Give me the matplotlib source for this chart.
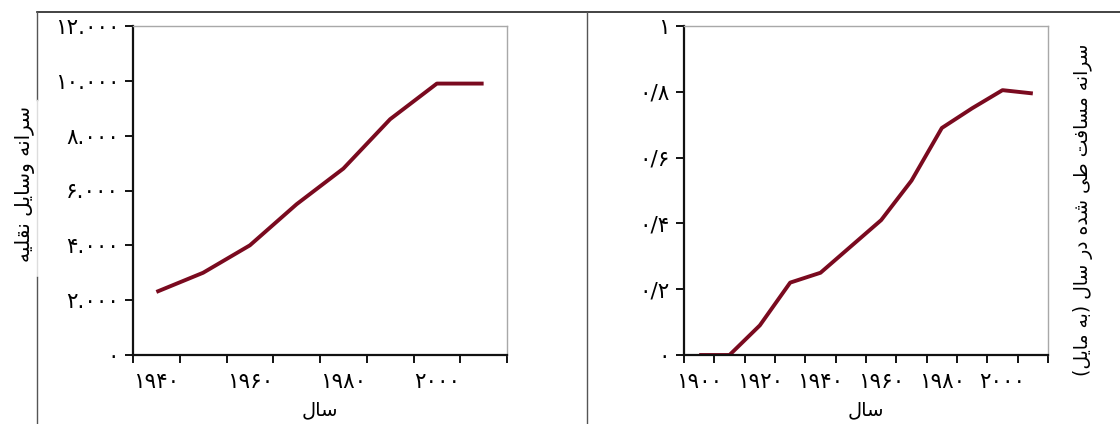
import matplotlib
matplotlib.use('Agg')
import matplotlib.pyplot as plt
from matplotlib.lines import Line2D

# ── Data ─────────────────────────────
years_cars = [1940, 1950, 1960, 1970, 1980, 1990, 2000, 2010]
cars_per_capita = [2300, 3000, 4000, 5500, 6800, 8600, 9900, 9900]

years_miles = [1900, 1910, 1920, 1930, 1940, 1950, 1960, 1970, 1980, 1990, 2000, 2010]
miles_per_capita = [0.0, 0.0, 0.09, 0.22, 0.25, 0.33, 0.41, 0.53, 0.69, 0.75, 0.805, 0.795]

cars_yticks = [0, 2000, 4000, 6000, 8000, 10000, 12000]
miles_yticks = [0, 0.2, 0.4, 0.6, 0.8, 1.0]
cars_xlabels = [1940, 1960, 1980, 2000]
miles_xlabels = [1900, 1920, 1940, 1960, 1980, 2000]

label_cars = 'سرانه وسایل نقلیه'
label_miles = 'سرانه مسافت طی شده در سال (به مایل)'
label_year = 'سال'

LINE = '#7a0a1f'

# ── Minimal Persian shaping (no bidi libs available) ──
FORMS = {
    'ا': ('\uFE8D', '\uFE8E', None, None),
    'ب': ('\uFE8F', '\uFE90', '\uFE91', '\uFE92'),
    'ت': ('\uFE95', '\uFE96', '\uFE97', '\uFE98'),
    'د': ('\uFEA9', '\uFEAA', None, None),
    'ر': ('\uFEAD', '\uFEAE', None, None),
    'س': ('\uFEB1', '\uFEB2', '\uFEB3', '\uFEB4'),
    'ش': ('\uFEB5', '\uFEB6', '\uFEB7', '\uFEB8'),
    'ط': ('\uFEC1', '\uFEC2', '\uFEC3', '\uFEC4'),
    'ف': ('\uFED1', '\uFED2', '\uFED3', '\uFED4'),
    'ق': ('\uFED5', '\uFED6', '\uFED7', '\uFED8'),
    'ل': ('\uFEDD', '\uFEDE', '\uFEDF', '\uFEE0'),
    'م': ('\uFEE1', '\uFEE2', '\uFEE3', '\uFEE4'),
    'ن': ('\uFEE5', '\uFEE6', '\uFEE7', '\uFEE8'),
    'ه': ('\uFEE9', '\uFEEA', '\uFEEB', '\uFEEC'),
    'و': ('\uFEED', '\uFEEE', None, None),
    'ی': ('\uFEEF', '\uFEF0', '\uFEF3', '\uFEF4'),
}
MIRROR = {'(': ')', ')': '('}


def dual(c):
    return c in FORMS and FORMS[c][2] is not None


def shape(text):
    out = []
    for i, c in enumerate(text):
        if c not in FORMS:
            out.append(MIRROR.get(c, c))
            continue
        prev_j = i > 0 and dual(text[i - 1])
        next_j = dual(c) and i + 1 < len(text) and text[i + 1] in FORMS
        iso, fin, ini, med = FORMS[c]
        if prev_j and next_j:
            out.append(med)
        elif prev_j:
            out.append(fin)
        elif next_j:
            out.append(ini)
        else:
            out.append(iso)
    return ''.join(reversed(out))


FA_DIGITS = str.maketrans('0123456789', '۰۱۲۳۴۵۶۷۸۹')


def fa_int(v):
    return f'{v:,}'.replace(',', '.').translate(FA_DIGITS)


def fa_dec(v):
    return f'{v:g}'.replace('.', '/').translate(FA_DIGITS)


plt.rcParams['font.family'] = ['DejaVu Sans']

fig = plt.figure(figsize=(11.2, 4.24), dpi=100)
fig.patch.set_facecolor('white')

ax1 = fig.add_axes([133 / 1120, 69 / 424, 374 / 1120, 329 / 424])
ax2 = fig.add_axes([684 / 1120, 69 / 424, 364 / 1120, 329 / 424])


def style(ax, years, xlabels, yticks, ylabels):
    step = years[1] - years[0]
    ax.set_xlim(years[0] - step / 2, years[-1] + step / 2)
    ax.set_xticks([y - step / 2 for y in years] + [years[-1] + step / 2])
    ax.set_xticklabels([])
    ax.set_xticks(xlabels, [fa_int(y).replace('.', '') for y in xlabels], minor=True)
    ax.tick_params(axis='x', which='minor', length=0, pad=12, labelsize=15.5)
    ax.tick_params(axis='x', which='major', length=6, width=1.3, direction='out')
    ax.set_yticks(yticks, ylabels)
    ax.tick_params(axis='y', length=6, width=1.3, pad=4, labelsize=15.5)
    for s in ['left', 'bottom']:
        ax.spines[s].set_linewidth(1.6)
        ax.spines[s].set_color('#111111')
    for s in ['top', 'right']:
        ax.spines[s].set_linewidth(1.0)
        ax.spines[s].set_color('#a8a8a8')
    ax.set_xlabel(shape(label_year), fontsize=14, labelpad=6)


ax1.plot(years_cars, cars_per_capita, color=LINE, lw=2.8, solid_capstyle='butt')
ax1.set_ylim(0, 12000)
style(ax1, years_cars, cars_xlabels, cars_yticks,
      [fa_int(v) if v else '۰' for v in cars_yticks])

ax2.plot(years_miles, miles_per_capita, color=LINE, lw=2.8, solid_capstyle='butt')
ax2.set_ylim(0, 1)
style(ax2, years_miles, miles_xlabels, miles_yticks,
      [fa_dec(v) for v in miles_yticks])

# y-axis titles
fig.text(25 / 1120, 1 - 184 / 424, shape(label_cars), rotation=90,
         ha='center', va='center', fontsize=14.5)
fig.text(1083 / 1120, 1 - 210 / 424, shape(label_miles), rotation=90,
         ha='center', va='center', fontsize=13.5)

# ── Frame lines ──────────────────────
ytop = 1 - 12 / 424
xl = 37 / 1120
fig.add_artist(Line2D([xl, 1], [ytop, ytop], color='#222222', lw=1.2))
fig.add_artist(Line2D([xl, xl], [ytop, 1 - 100 / 424], color='#555555', lw=1.0))
fig.add_artist(Line2D([xl, xl], [1 - 100 / 424, 1 - 277 / 424], color='#dddddd', lw=1.0))
fig.add_artist(Line2D([xl, xl], [1 - 277 / 424, 0], color='#555555', lw=1.0))
fig.add_artist(Line2D([587 / 1120, 587 / 1120], [0, ytop], color='#555555', lw=1.0))

fig.savefig('out.png', dpi=100, facecolor='white')
